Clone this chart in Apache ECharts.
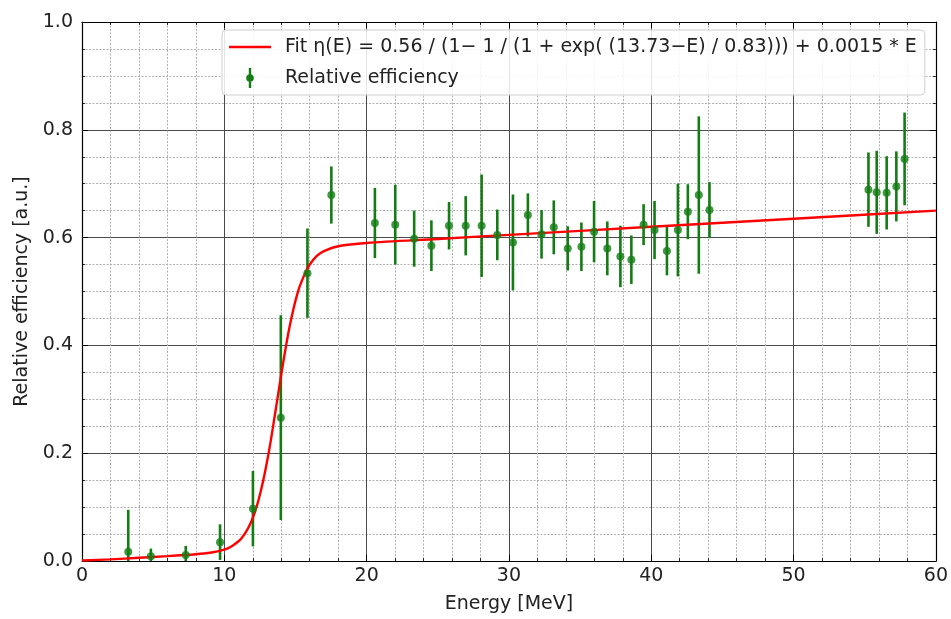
<!DOCTYPE html>
<html>
<head>
<meta charset="utf-8">
<script src="https://cdn.jsdelivr.net/npm/echarts@6/dist/echarts.min.js"></script>
<style>html,body{margin:0;padding:0;background:#fff}#c{width:951px;height:619px}</style>
</head>
<body>
<div id="c"></div>
<script>
// Measured points
const energy = [3.25,4.84,7.29,9.70,12.01,13.97,15.84,17.52,20.58,22.01,23.34,24.55,25.79,26.96,28.08,29.18,30.28,31.33,32.29,33.15,34.13,35.09,35.98,36.91,37.83,38.60,39.46,40.23,41.10,41.87,42.57,43.34,44.09,55.26,55.84,56.54,57.22,57.80];
const efficiency = [0.017,0.009,0.011,0.035,0.097,0.266,0.534,0.679,0.627,0.624,0.598,0.585,0.622,0.622,0.622,0.605,0.591,0.642,0.606,0.619,0.580,0.583,0.611,0.580,0.565,0.559,0.624,0.614,0.575,0.614,0.648,0.679,0.651,0.689,0.684,0.683,0.695,0.746];
const errors = [0.078,0.014,0.017,0.033,0.070,0.190,0.083,0.053,0.065,0.074,0.052,0.047,0.044,0.055,0.095,0.047,0.089,0.040,0.045,0.050,0.041,0.045,0.057,0.050,0.057,0.045,0.038,0.054,0.045,0.086,0.051,0.146,0.052,0.069,0.077,0.068,0.065,0.086];
// Fit curve
const fitE = [0,2,4,6,8,9,10,10.5,11,11.25,11.5,11.75,12,12.25,12.5,12.75,13,13.25,13.5,13.75,14,14.25,14.5,14.75,15,15.25,15.5,15.75,16,16.5,17,18,20,25,30,40,50,60];
const fitV = [0.001,0.003,0.006,0.009,0.0126,0.0154,0.0212,0.027,0.0366,0.0437,0.053,0.0648,0.080,0.099,0.123,0.151,0.184,0.221,0.262,0.304,0.346,0.386,0.423,0.455,0.483,0.506,0.523,0.538,0.550,0.566,0.575,0.584,0.590,0.5975,0.605,0.620,0.635,0.650];
const xTicks = [0,10,20,30,40,50,60];
const yTicks = [0.0,0.2,0.4,0.6,0.8,1.0];
const fitLabel = 'Fit η(E) = 0.56 / (1\u2212 1 / (1 + exp( (13.73\u2212E) / 0.83))) + 0.0015 * E';
const dataLabel = 'Relative efficiency';

const FONT = 'DejaVu Sans';
const FS = 19;
const GREEN = '#137d13';
const chart = echarts.init(document.getElementById('c'));

const pts = energy.map((e,i)=>[e, efficiency[i], errors[i]]);
const fitData = fitE.map((e,i)=>[e, fitV[i]]);

function axisCommon(pos, isX, show) {
  return {
    type: 'value',
    position: pos,
    min: isX ? xTicks[0] : yTicks[0],
    max: isX ? xTicks[xTicks.length-1] : yTicks[yTicks.length-1],
    interval: isX ? 10 : 0.2,
    axisLine: {show: true, onZero: false, lineStyle: {color: '#000', width: 1.2}},
    axisTick: {show: true, inside: true, length: 6, lineStyle: {color: '#000', width: 1}},
    minorTick: {show: true, splitNumber: isX ? 5 : 4, length: 3, lineStyle: {color: '#000', width: 0.8}},
    axisLabel: {show: show, color: '#222', fontFamily: FONT, fontSize: FS, margin: isX ? 6 : 9,
      formatter: isX ? (v)=>String(v) : (v)=>v.toFixed(1)},
    splitLine: {show: show, lineStyle: {color: '#4a4a4a', width: 1}},
    minorSplitLine: {show: show, lineStyle: {color: '#b0b0b0', width: 1, type: [2, 1.5]}},
  };
}

const xMain = axisCommon('bottom', true, true);
xMain.name = 'Energy [MeV]'; xMain.nameLocation = 'middle'; xMain.nameGap = 34;
xMain.nameTextStyle = {fontFamily: FONT, fontSize: FS, color: '#222'};
const yMain = axisCommon('left', false, true);
yMain.name = 'Relative efficiency [a.u.]'; yMain.nameLocation = 'middle'; yMain.nameGap = 48;
yMain.nameTextStyle = {fontFamily: FONT, fontSize: FS, color: '#222'};
const xTop = axisCommon('top', true, false);
const yRight = axisCommon('right', false, false);

chart.setOption({
  animation: false,
  backgroundColor: '#fff',
  grid: {left: 82, right: 13, top: 22, bottom: 54, containLabel: false},
  xAxis: [xMain, xTop],
  yAxis: [yMain, yRight],
  legend: {
    left: 222, top: 30,
    orient: 'vertical',
    padding: [7, 8, 7, 7],
    itemGap: 11,
    itemWidth: 42, itemHeight: 20,
    backgroundColor: 'rgba(255,255,255,0.85)',
    borderColor: '#cfcfcf', borderWidth: 1, borderRadius: 4,
    textStyle: {fontFamily: FONT, fontSize: FS, color: '#222', lineHeight: 20, padding: [0, 0, 0, 9]},
    data: [
      {name: fitLabel, icon: 'path://M0,9h42v2.6h-42z', itemStyle: {color: '#ff0000'}},
      {name: dataLabel, icon: 'path://M3,0h2.4v20h-2.4z M4.2,6.2a3.8,3.8 0 1,1 0,7.6a3.8,3.8 0 1,1 0,-7.6z', itemStyle: {color: GREEN}}
    ]
  },
  series: [
    {
      name: dataLabel,
      type: 'custom',
      xAxisIndex: 0, yAxisIndex: 0,
      data: pts,
      z: 3,
      renderItem: function(params, api) {
        const x = api.value(0), v = api.value(1), e = api.value(2);
        const lo = Math.max(0, v - e), hi = Math.min(1, v + e);
        const p1 = api.coord([x, lo]);
        const p2 = api.coord([x, hi]);
        return {type: 'line', shape: {x1: p1[0], y1: p1[1], x2: p2[0], y2: p2[1]},
          style: {stroke: GREEN, lineWidth: 2.6}};
      },
      itemStyle: {color: GREEN}
    },
    {
      name: fitLabel,
      type: 'line',
      xAxisIndex: 0, yAxisIndex: 0,
      data: fitData,
      smooth: 0.3,
      symbol: 'none',
      lineStyle: {color: '#ff0000', width: 2.4},
      itemStyle: {color: '#ff0000'},
      z: 4
    },
    {
      name: dataLabel,
      type: 'scatter',
      xAxisIndex: 0, yAxisIndex: 0,
      data: pts.map(p=>[p[0], p[1]]),
      symbol: 'circle',
      symbolSize: 8,
      itemStyle: {color: GREEN},
      z: 5
    }
  ]
});
</script>
</body>
</html>
